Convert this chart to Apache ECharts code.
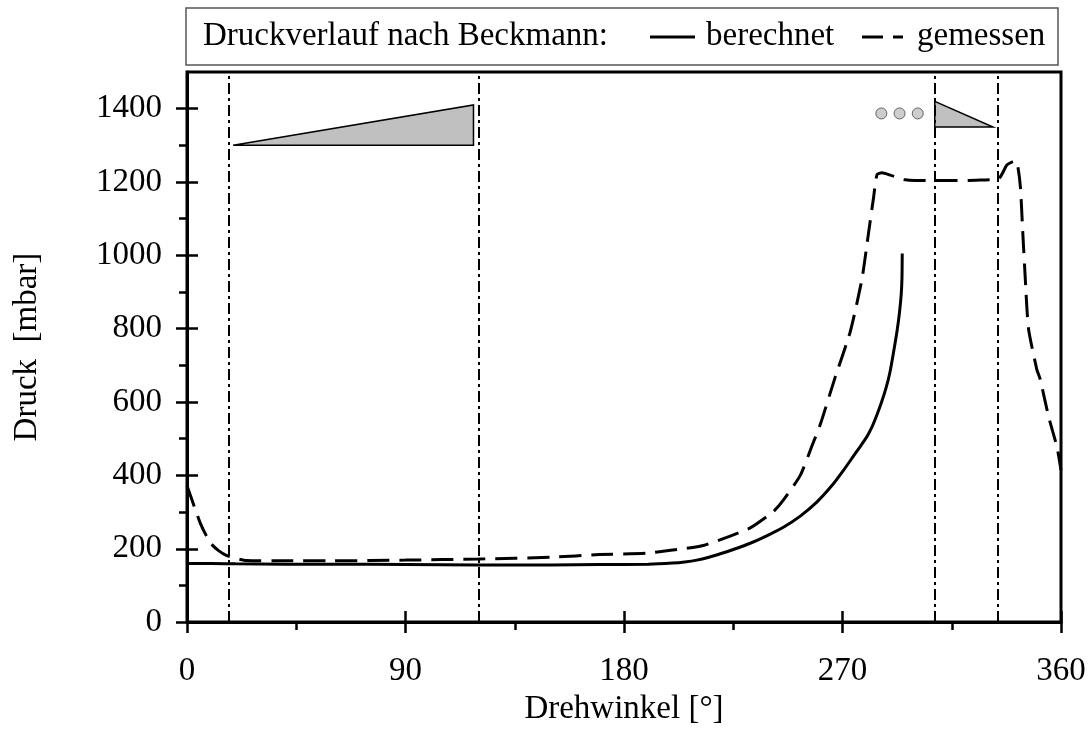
<!DOCTYPE html>
<html>
<head>
<meta charset="utf-8">
<script src="https://cdn.jsdelivr.net/npm/echarts@6/dist/echarts.min.js"></script>
<style>
html, body {margin: 0; padding: 0; background: #fff;}
#chart {width: 1089px; height: 731px;}
</style>
</head>
<body>
<div id="chart"></div>
<script>
// Druckverlauf berechnet (Drehwinkel in Grad, Druck in mbar)
var calcAngle = [0, 10, 20, 40, 60, 90, 120, 150, 170, 190, 200, 205, 210, 215, 220, 225, 232, 239, 246, 252.6, 259.4, 266, 270, 274, 277, 280, 282, 284, 286, 288, 289.5, 291, 292.5, 293.5, 294.2, 294.5, 294.6];
var calcPress = [160, 160, 159, 158, 158, 157, 156, 156, 157, 158, 161, 164, 169, 177, 187, 198, 215, 236, 260, 289, 327, 375, 410, 448, 476, 505, 530, 562, 598, 640, 680, 735, 795, 846, 895, 940, 1005];
// Druckverlauf gemessen
var measAngle = [0, 3, 5.6, 8, 10, 13, 16.2, 20, 24.5, 40, 60, 90, 120, 150, 170, 189.4, 204.4, 212.7, 222.3, 232, 241.6, 245.7, 252.6, 257.4, 260.8, 267, 273.2, 278, 280.7, 282.8, 284.2, 286.2, 290, 295.2, 300, 306, 315, 325, 334.4, 337.8, 341.2, 342.2, 343.3, 344.2, 345.3, 346.6, 350, 351.4, 354.9, 358.4, 360];
var measPress = [372, 315, 268, 235, 213, 195, 182, 174, 168, 167, 167, 169, 172, 177, 184, 188, 200, 209, 231, 257, 302, 333, 400, 480, 538, 668, 792, 935, 1060, 1158, 1220, 1225, 1218, 1207, 1204, 1204, 1204, 1205, 1210, 1247, 1258, 1243, 1185, 1069, 935, 801, 690, 663, 560, 476, 414];
// Markierungen
var markerAngles = [17, 120, 308, 334];
var triLeft = [[19, 1300], [118, 1300], [118, 1410]];
var triRight = [[308, 1420], [308, 1350], [332, 1350]];
var dots = [[286, 1387], [293.5, 1387], [301, 1387]];
// Achsen
var xTicks = [0, 90, 180, 270, 360];
var yTicks = [0, 200, 400, 600, 800, 1000, 1200, 1400];
var yMinor = [100, 300, 500, 700, 900, 1100, 1300];

var FONT = "'Liberation Serif', 'Times New Roman', serif";
var FS = 33;

function pairs(a, b) {
    var out = [];
    for (var i = 0; i < a.length; i++) {
        out.push([a[i], b[i]]);
    }
    return out;
}
function plain(v) {
    return String(v); //keine Tausendertrennzeichen
}

var chart = echarts.init(document.getElementById('chart'));

var xBase = {
    type: 'value', min: 0, max: 360, interval: 90, position: 'bottom',
    splitLine: {show: false}
};
var yBase = {
    type: 'value', min: 0, max: 1500, position: 'left',
    splitLine: {show: false}
};

chart.setOption({
    animation: false,
    backgroundColor: '#fff',
    grid: {
        left: 187, top: 72, right: 28, bottom: 98,
        show: true, borderColor: '#000', borderWidth: 3
    },
    xAxis: [
        Object.assign({}, xBase, {
            axisLine: {show: true, lineStyle: {color: '#000', width: 3}},
            axisTick: {show: true, inside: false, length: 11, customValues: xTicks, lineStyle: {color: '#000', width: 2.5}},
            minorTick: {show: true, splitNumber: 2, length: 8, lineStyle: {color: '#000', width: 2.5}},
            axisLabel: {show: true, margin: 33, customValues: xTicks, formatter: plain, fontFamily: FONT, fontSize: FS, color: '#000'},
            name: 'Drehwinkel [°]', nameLocation: 'middle', nameGap: 66,
            nameTextStyle: {fontFamily: FONT, fontSize: FS, color: '#000'}
        }),
        Object.assign({}, xBase, {
            axisLine: {show: false},
            axisTick: {show: true, inside: true, length: 11, customValues: xTicks, lineStyle: {color: '#000', width: 2.5}},
            axisLabel: {show: false}
        })
    ],
    yAxis: [
        Object.assign({}, yBase, {
            axisLine: {show: true, lineStyle: {color: '#000', width: 3}},
            axisTick: {show: true, inside: false, length: 11, customValues: yTicks, lineStyle: {color: '#000', width: 2.5}},
            axisLabel: {show: true, margin: 25, customValues: yTicks, formatter: plain, fontFamily: FONT, fontSize: FS, color: '#000'},
            name: 'Druck  [mbar]', nameLocation: 'middle', nameGap: 143,
            nameTextStyle: {fontFamily: FONT, fontSize: FS, color: '#000'}
        }),
        Object.assign({}, yBase, {
            axisLine: {show: false},
            axisTick: {show: true, inside: true, length: 11, customValues: yTicks, lineStyle: {color: '#000', width: 2.5}},
            axisLabel: {show: false}
        }),
        Object.assign({}, yBase, {
            axisLine: {show: false},
            axisTick: {show: true, inside: false, length: 8, customValues: yMinor, lineStyle: {color: '#000', width: 2.5}},
            axisLabel: {show: false}
        })
    ],
    series: [
        {
            name: 'berechnet', type: 'line', showSymbol: false, smooth: 0.25,
            data: pairs(calcAngle, calcPress),
            lineStyle: {color: '#000', width: 3},
            z: 5
        },
        {
            name: 'gemessen', type: 'line', showSymbol: false, smooth: 0.2,
            data: pairs(measAngle, measPress),
            lineStyle: {color: '#000', width: 3, type: [22, 10]},
            markLine: {
                silent: true, symbol: 'none', label: {show: false},
                lineStyle: {color: '#000', width: 2, type: [11, 4, 3, 4]},
                data: markerAngles.map(function (a) { return {xAxis: a}; })
            },
            z: 5
        },
        {
            type: 'custom',
            data: [[0], [1]],
            renderItem: function (params, api) {
                var tri = params.dataIndex === 0 ? triLeft : triRight;
                return {
                    type: 'polygon',
                    shape: {points: tri.map(function (p) { return api.coord(p); })},
                    style: {fill: '#c0c0c0', stroke: '#000', lineWidth: 1.5}
                };
            },
            silent: true, z: 3
        },
        {
            type: 'scatter', data: dots, symbolSize: 11,
            itemStyle: {color: '#c0c0c0', borderColor: '#444', borderWidth: 1},
            silent: true, z: 3
        }
    ],
    graphic: [
        {type: 'rect', shape: {x: 186, y: 8, width: 872, height: 57},
            style: {fill: '#fff', stroke: '#555', lineWidth: 1.5}},
        {type: 'text', x: 203, y: 36,
            style: {text: 'Druckverlauf nach Beckmann:', font: FS + 'px ' + FONT, fill: '#000', verticalAlign: 'middle'}},
        {type: 'line', shape: {x1: 650, y1: 37, x2: 695, y2: 37}, style: {stroke: '#000', lineWidth: 3}},
        {type: 'text', x: 706, y: 36,
            style: {text: 'berechnet', font: FS + 'px ' + FONT, fill: '#000', verticalAlign: 'middle'}},
        {type: 'line', shape: {x1: 862, y1: 37, x2: 883, y2: 37}, style: {stroke: '#000', lineWidth: 3}},
        {type: 'line', shape: {x1: 893, y1: 37, x2: 903, y2: 37}, style: {stroke: '#000', lineWidth: 3}},
        {type: 'text', x: 917, y: 36,
            style: {text: 'gemessen', font: FS + 'px ' + FONT, fill: '#000', verticalAlign: 'middle'}}
    ]
});
</script>
</body>
</html>
